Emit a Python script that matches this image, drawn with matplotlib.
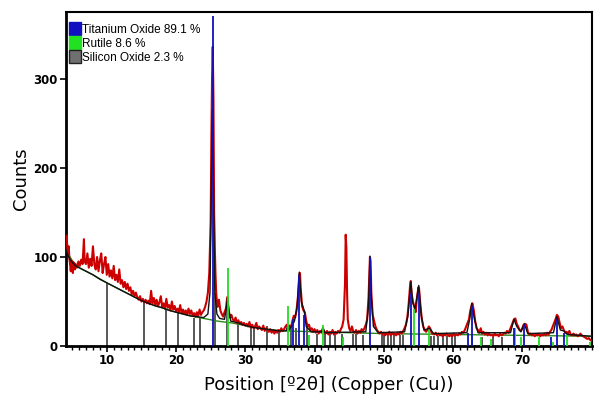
#!/usr/bin/env python3

import numpy as np
import matplotlib
matplotlib.use('Agg')
import matplotlib.pyplot as plt
from matplotlib.patches import Patch
from matplotlib.ticker import MultipleLocator

# observed profile (2theta, counts)
obs = [
    (4.1, 118), (4.2, 124), (4.3, 110), (4.4, 104), (4.5, 112), (4.6, 98), (4.7, 92), (4.8, 84),
    (4.9, 96), (5.0, 88), (5.1, 82), (5.2, 94), (5.3, 90), (5.4, 86), (5.5, 92), (5.7, 88),
    (5.9, 95), (6.1, 90), (6.3, 97), (6.5, 92), (6.7, 120), (6.8, 95), (7.0, 92), (7.2, 104),
    (7.4, 88), (7.6, 98), (7.8, 90), (8.0, 112), (8.2, 92), (8.4, 86), (8.6, 100), (8.8, 84),
    (9.0, 96), (9.2, 104), (9.4, 82), (9.6, 92), (9.8, 100), (10.0, 80), (10.2, 92), (10.4, 78),
    (10.6, 85), (10.8, 76), (11.0, 90), (11.2, 74), (11.4, 80), (11.6, 72), (11.8, 86), (12.0, 70),
    (12.2, 74), (12.4, 66), (12.6, 72), (12.8, 64), (13.0, 70), (13.2, 62), (13.4, 66), (13.6, 58),
    (13.8, 62), (14.0, 56), (14.2, 60), (14.4, 55), (14.6, 52), (14.8, 56), (15.0, 50), (15.2, 53),
    (15.4, 49), (15.6, 52), (15.8, 48), (16.0, 51), (16.2, 47), (16.4, 62), (16.6, 48), (16.8, 54),
    (17.0, 46), (17.2, 52), (17.4, 45), (17.6, 49), (17.8, 56), (18.0, 44), (18.2, 48), (18.4, 42),
    (18.6, 53), (18.8, 43), (19.0, 46), (19.2, 40), (19.4, 50), (19.6, 41), (19.8, 45), (20.0, 39),
    (20.2, 42), (20.4, 38), (20.6, 46), (20.8, 37), (21.0, 41), (21.2, 36), (21.4, 40), (21.6, 35),
    (21.8, 42), (22.0, 36), (22.2, 40), (22.4, 34), (22.6, 37), (22.8, 33), (23.0, 38), (23.2, 34),
    (23.4, 41), (23.6, 35), (23.8, 38), (24.0, 40), (24.2, 44), (24.4, 50), (24.6, 60), (24.8, 82),
    (25.0, 140), (25.1, 230), (25.2, 300), (25.3, 336), (25.4, 280), (25.5, 150), (25.6, 110),
    (25.7, 80), (25.8, 60), (25.9, 50), (26.0, 44), (26.2, 52), (26.4, 40), (26.6, 36), (26.8, 33),
    (27.0, 38), (27.2, 42), (27.4, 55), (27.6, 40), (27.8, 32), (28.0, 35), (28.2, 30), (28.4, 28),
    (28.6, 32), (28.8, 26), (29.0, 29), (29.2, 25), (29.4, 27), (29.6, 24), (29.8, 26), (30.0, 23),
    (30.2, 25), (30.4, 22), (30.6, 27), (30.8, 21), (31.0, 24), (31.2, 20), (31.4, 22), (31.6, 26),
    (31.8, 19), (32.0, 22), (32.2, 20), (32.4, 18), (32.6, 23), (32.8, 17), (33.0, 20), (33.2, 18),
    (33.4, 16), (33.6, 19), (33.8, 15), (34.0, 18), (34.2, 14), (34.4, 17), (34.6, 15), (34.8, 18),
    (35.0, 16), (35.2, 20), (35.4, 17), (35.6, 19), (35.8, 22), (36.0, 24), (36.2, 20), (36.4, 23),
    (36.6, 21), (36.8, 28), (37.0, 34), (37.2, 32), (37.4, 40), (37.6, 55), (37.8, 80), (37.9, 82),
    (38.0, 65), (38.2, 45), (38.4, 40), (38.6, 38), (38.8, 28), (39.0, 22), (39.2, 24), (39.4, 18),
    (39.6, 20), (39.8, 16), (40.0, 19), (40.2, 15), (40.4, 18), (40.6, 14), (40.8, 17), (41.0, 15),
    (41.2, 20), (41.4, 16), (41.6, 14), (41.8, 17), (42.0, 13), (42.2, 16), (42.4, 14), (42.6, 18),
    (42.8, 13), (43.0, 16), (43.2, 14), (43.4, 17), (43.6, 15), (43.8, 19), (44.0, 22), (44.2, 30),
    (44.4, 70), (44.5, 125), (44.6, 110), (44.7, 60), (44.8, 30), (45.0, 20), (45.2, 17), (45.4, 22),
    (45.6, 16), (45.8, 15), (46.0, 18), (46.2, 14), (46.4, 17), (46.6, 15), (46.8, 19), (47.0, 17),
    (47.2, 20), (47.4, 24), (47.6, 30), (47.8, 55), (48.0, 100), (48.1, 95), (48.2, 60), (48.4, 35),
    (48.6, 28), (48.8, 22), (49.0, 18), (49.2, 16), (49.4, 14), (49.6, 16), (49.8, 13), (50.0, 15),
    (50.2, 12), (50.4, 14), (50.6, 13), (50.8, 16), (51.0, 12), (51.2, 15), (51.4, 13), (51.6, 14),
    (51.8, 12), (52.0, 15), (52.2, 13), (52.4, 16), (52.6, 14), (52.8, 17), (53.0, 20), (53.2, 24),
    (53.4, 32), (53.6, 48), (53.8, 68), (53.9, 73), (54.0, 60), (54.2, 50), (54.4, 45), (54.6, 38),
    (54.8, 55), (55.0, 66), (55.1, 64), (55.3, 45), (55.5, 30), (55.7, 22), (55.9, 18), (56.1, 16),
    (56.3, 18), (56.5, 22), (56.7, 20), (56.9, 15), (57.1, 14), (57.3, 13), (57.5, 15), (57.7, 12),
    (57.9, 14), (58.1, 12), (58.3, 13), (58.5, 11), (58.7, 13), (58.9, 12), (59.1, 14), (59.3, 12),
    (59.5, 11), (59.7, 13), (59.9, 11), (60.1, 14), (60.3, 12), (60.5, 13), (60.7, 12), (60.9, 14),
    (61.1, 13), (61.3, 16), (61.5, 15), (61.7, 18), (61.9, 22), (62.1, 26), (62.3, 30), (62.5, 40),
    (62.7, 46), (62.8, 48), (63.0, 40), (63.2, 28), (63.4, 20), (63.6, 18), (63.8, 15), (64.0, 20),
    (64.2, 14), (64.4, 16), (64.6, 13), (64.8, 15), (65.0, 12), (65.2, 14), (65.4, 12), (65.6, 13),
    (65.8, 11), (66.0, 14), (66.2, 12), (66.4, 13), (66.6, 11), (66.8, 14), (67.0, 12), (67.2, 13),
    (67.4, 15), (67.6, 14), (67.8, 17), (68.0, 15), (68.2, 18), (68.4, 22), (68.6, 26), (68.8, 30),
    (69.0, 31), (69.2, 25), (69.4, 22), (69.6, 18), (69.8, 17), (70.0, 20), (70.2, 24), (70.4, 25),
    (70.6, 24), (70.8, 16), (71.0, 13), (71.2, 14), (71.4, 12), (71.6, 13), (71.8, 11), (72.0, 13),
    (72.2, 12), (72.4, 14), (72.6, 11), (72.8, 13), (73.0, 12), (73.2, 14), (73.4, 12), (73.6, 15),
    (73.8, 13), (74.0, 16), (74.2, 18), (74.4, 22), (74.6, 26), (74.8, 30), (75.0, 35), (75.2, 33),
    (75.4, 26), (75.6, 20), (75.8, 22), (76.0, 18), (76.2, 15), (76.4, 16), (76.6, 14), (76.8, 17),
    (77.0, 13), (77.2, 12), (77.4, 14), (77.6, 12), (77.8, 13), (78.0, 11), (78.2, 12), (78.4, 14),
    (78.6, 12), (78.8, 11), (79.0, 10), (79.2, 9), (79.4, 8), (79.6, 9), (79.8, 7), (80.0, 6),
]

# calculated profile
calc = [
    (4.1, 108), (4.5, 100), (5.0, 94), (5.5, 90), (6.0, 88), (7.0, 84), (8.0, 80), (9.0, 75),
    (10.0, 71), (11.0, 67), (12.0, 63), (13.0, 59), (14.0, 55), (15.0, 51), (16.0, 48), (17.0, 45),
    (18.0, 43), (19.0, 40), (20.0, 38), (21.0, 36), (22.0, 34), (23.0, 33), (24.0, 32), (24.6, 36),
    (24.9, 60), (25.1, 180), (25.25, 265), (25.4, 180), (25.6, 60), (25.9, 36), (26.3, 31),
    (27.0, 30), (27.3, 45), (27.45, 55), (27.6, 42), (27.9, 28), (29.0, 26), (30.0, 23), (31.0, 21),
    (32.0, 20), (33.0, 19), (34.0, 18), (35.0, 17), (35.9, 17), (36.1, 22), (36.3, 18), (36.9, 25),
    (37.1, 28), (37.5, 45), (37.8, 83), (38.1, 50), (38.5, 40), (38.8, 22), (39.5, 16), (41.0, 16),
    (41.25, 20), (41.5, 15), (47.4, 16), (47.8, 45), (48.0, 101), (48.2, 55), (48.5, 22), (49.2, 15),
    (53.0, 16), (53.5, 35), (53.9, 72), (54.2, 48), (54.5, 42), (54.8, 55), (55.05, 68), (55.4, 35),
    (55.8, 18), (56.6, 20), (57.2, 14), (62.0, 15), (62.4, 30), (62.7, 48), (63.1, 30), (63.6, 15),
    (68.3, 15), (68.8, 30), (69.2, 22), (69.8, 16), (70.3, 25), (70.8, 14), (74.5, 15), (75.0, 33),
    (75.5, 18), (76.0, 17), (76.5, 13), (80.0, 11),
]

# background
bg_x = [4.1, 5, 6, 8, 10, 12, 14, 16, 18, 20, 22, 24, 26, 28, 30, 32, 34, 36, 40, 50, 60, 70, 80]
bg_y = [108, 96, 88, 80, 71, 63, 55, 48, 43, 38, 34, 31, 28, 26, 23, 20, 18, 17, 16, 14, 13, 12, 11]

# reference patterns: positions and stick heights
anatase_pos = [25.3, 36.95, 37.8, 38.55, 48.05, 53.9, 55.06, 62.1, 62.7, 68.76, 70.3, 74.1, 75.0, 76.0]
anatase_int = [370, 30, 80, 35, 100, 60, 60, 15, 45, 20, 25, 10, 30, 15]

rutile_pos = [27.45, 36.1, 39.2, 41.25, 44.05, 54.35, 56.6, 62.75, 64.05, 65.5, 69.0, 69.8, 72.4, 74.4, 76.5, 79.8]
rutile_int = [88, 45, 12, 24, 10, 42, 18, 10, 10, 8, 20, 10, 10, 5, 12, 5]

silica_pos = [10.0, 15.4, 18.5, 20.3, 22.6, 23.4, 25.65, 27.4, 28.9, 30.8, 31.3, 33.1, 34.8,
              36.6, 37.3, 38.9, 40.3, 41.5, 42.2, 43.0, 44.0, 45.5, 46.0, 47.0, 49.8, 50.1,
              50.6, 51.0, 51.5, 52.3, 52.8, 56.8, 57.3, 57.9, 58.5, 59.2, 59.8, 60.3, 64.2,
              65.8, 67.0]
silica_int = [71, 49, 42, 37, 31, 32, 60, 54, 28, 23, 22, 22, 16,
              20, 20, 22, 14, 15, 13, 14, 14, 13, 13, 12, 12, 12,
              12, 12, 12, 12, 12, 11, 11, 11, 11, 11, 11, 11, 10,
              10, 10]

legend_labels = ['Titanium Oxide 89.1 %', 'Rutile 8.6 %', 'Silicon Oxide 2.3 %']

fig = plt.figure(figsize=(5.94, 4.01), dpi=100)
ax = fig.add_axes([0.111, 0.137, 0.886, 0.833])

ox, oy = zip(*obs)
cx, cy = zip(*calc)

# sticks
ax.vlines(silica_pos, 0, silica_int, color='#4a4a4a', lw=1.3, zorder=2)
ax.plot(bg_x, bg_y, color='#2a8a1a', lw=1.0, zorder=3)
ax.plot(ox, oy, color='#cc0000', lw=1.5, zorder=4)
ax.plot(cx, cy, color='#111111', lw=1.0, zorder=5)
ax.vlines(rutile_pos, 0, rutile_int, color='#22dd22', lw=1.3, zorder=6)
ax.vlines(anatase_pos, 0, anatase_int, color='#1010c0', lw=1.3, zorder=6)

ax.set_xlim(4.1, 80.1)
ax.set_ylim(0, 375)
ax.set_yticks([0, 100, 200, 300])
ax.set_xticks([10, 20, 30, 40, 50, 60, 70])
ax.xaxis.set_minor_locator(MultipleLocator(1))
ax.tick_params(axis='both', which='major', direction='out', length=4, width=1.2, labelsize=8.5, pad=2)
ax.tick_params(axis='x', which='minor', direction='out', length=3, width=1.0)
for lab in ax.get_xticklabels() + ax.get_yticklabels():
    lab.set_fontweight('bold')

ax.spines['left'].set_linewidth(2.0)
ax.spines['bottom'].set_linewidth(2.0)
ax.spines['top'].set_linewidth(1.5)
ax.spines['right'].set_linewidth(1.5)

ax.set_ylabel('Counts', fontsize=13, labelpad=2)
ax.set_xlabel('Position [º2θ] (Copper (Cu))', fontsize=13, labelpad=6)

handles = [Patch(facecolor='#1010c0', edgecolor='#1010c0'),
           Patch(facecolor='#22e022', edgecolor='#22e022'),
           Patch(facecolor='#707070', edgecolor='#222222')]
ax.legend(handles, legend_labels, loc='upper left', frameon=False,
          bbox_to_anchor=(-0.008, 0.99), handlelength=1.0, handleheight=1.3,
          handletextpad=0.1, labelspacing=0.05, borderaxespad=0.2,
          prop={'family': ['Liberation Sans', 'DejaVu Sans'], 'size': 8.5})

fig.savefig('out.png', dpi=100)
